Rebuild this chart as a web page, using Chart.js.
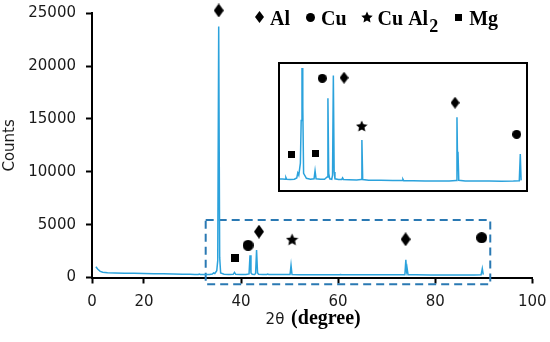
<!DOCTYPE html>
<html>
<head>
<meta charset="utf-8">
<script src="https://cdn.jsdelivr.net/npm/chart.js@4.4.1/dist/chart.umd.min.js"></script>
<style>
body { margin: 0; background: #fff; }
#wrap { position: relative; width: 550px; height: 342px; }
#inset { position: absolute; left: 278px; top: 62px; width: 250px; height: 130px;
         border: 2px solid #000; box-sizing: border-box; background: #fff; }
</style>
</head>
<body>
<div id="wrap">
  <canvas id="xrdChart"></canvas>
  <div id="inset"><canvas id="insetChart"></canvas></div>
</div>
<script>
// XRD pattern (2theta in degrees, counts)
var angle = [10.1, 10.5, 11.0, 11.5, 12.5, 14, 16, 18, 20, 22, 24, 26, 28, 29.5, 30.5, 31.2, 31.4, 31.6,
  32.5, 33.5, 34.1, 34.35, 34.6, 35.0, 35.2, 35.4, 35.6, 35.8, 36.5, 37.5, 38.4, 38.65, 38.9, 40, 41.0,
  41.65, 41.85, 42.05, 42.3, 42.8, 43.0, 43.2, 43.4, 43.6, 44.5, 45.3, 45.5, 45.7, 47, 49, 50.1, 50.3,
  50.5, 52, 55, 58, 60.3, 60.5, 60.7, 63, 66, 69, 72, 73.75, 73.95, 74.1, 74.2, 74.4, 76, 79, 82, 85,
  88, 89.45, 89.7, 89.9];
var counts = [1020, 780, 580, 490, 450, 430, 410, 395, 380, 365, 345, 330, 310, 300, 295, 290, 330, 290,
  285, 290, 320, 430, 380, 650, 1600, 23750, 1900, 420, 310, 290, 300, 480, 300, 290, 290,
  340, 2095, 420, 300, 290, 380, 2600, 450, 300, 285, 285, 320, 285, 280, 275, 285, 1165,
  285, 270, 265, 262, 262, 290, 258, 255, 252, 250, 250, 262, 1670, 650, 900, 265, 250, 248, 248, 246,
  248, 255, 852, 265];

// phase labels (main plot)
var alMain = [[35.4, 25265], [43.7, 4337], [73.9, 3617]];
var cuMain = [[41.45, 3049], [89.57, 3769]];
var cuAl2Main = [[50.52, 3617]];
var mgMain = [[38.85, 1818]];

// phase labels (inset)
var alInset = [[45.85, 2554], [73.46, 1996]];
var cuInset = [[40.45, 2540], [88.8, 1291]];
var cuAl2Inset = [[50.25, 1477]];
var mgInset = [[32.84, 845], [38.88, 868]];

// zoomed region shown in the inset
var zoomX = [32.72, 91.34];
var zoomY = [-644, 5445];

var xTickPos = [9.3, 20, 40, 60, 80, 100];
var xTickLabels = ['0', '20', '40', '60', '80', '100'];
var yTicks = [0, 5000, 10000, 15000, 20000, 25000];

var legendNames = ['Al', 'Cu', 'Cu Al', 'Mg'];
var legendSub = ['', '', '2', ''];

var axisFont = { family: 'DejaVu Sans', size: 15 };

function makeMarker(shape, w, h) {
  var c = document.createElement('canvas');
  c.width = w; c.height = h;
  var g = c.getContext('2d');
  g.fillStyle = '#000';
  g.beginPath();
  if (shape === 'diamond') {
    g.moveTo(w / 2, 0); g.lineTo(w, h / 2); g.lineTo(w / 2, h); g.lineTo(0, h / 2);
  } else if (shape === 'circle') {
    g.arc(w / 2, h / 2, w / 2, 0, Math.PI * 2);
  } else if (shape === 'square') {
    g.rect(0, 0, w, h);
  } else {
    for (var i = 0; i < 10; i++) {
      var r = i % 2 ? w * 0.24 : w / 2;
      var a = -Math.PI / 2 + i * Math.PI / 5;
      g.lineTo(w / 2 + r * Math.cos(a), h * 0.55 + r * Math.sin(a));
    }
  }
  g.closePath();
  g.fill();
  return c;
}

var big = {
  diamond: makeMarker('diamond', 10, 14), circle: makeMarker('circle', 11, 11),
  star: makeMarker('star', 13, 13), square: makeMarker('square', 8, 8)
};
var small = {
  diamond: makeMarker('diamond', 9, 12), circle: makeMarker('circle', 9, 9),
  star: makeMarker('star', 12, 12), square: makeMarker('square', 7, 7)
};
var legendMarks = [small.diamond, small.circle, small.star, small.square];

function pts(list) { return list.map(function (p) { return { x: p[0], y: p[1] }; }); }
function markerSet(list, img) {
  return { data: pts(list), pointStyle: img, pointRadius: 6, pointHoverRadius: 6, showLine: false, clip: false };
}

var xrd = angle.map(function (a, i) { return { x: a, y: counts[i] }; });
var lineBlue = '#2ba2dc';

var peakLegend = {
  id: 'peakLegend',
  afterDraw: function (chart) {
    var ctx = chart.ctx;
    ctx.save();
    ctx.fillStyle = '#000';
    ctx.textBaseline = 'alphabetic';
    var x = 259;
    for (var i = 0; i < legendNames.length; i++) {
      var m = legendMarks[i];
      ctx.drawImage(m, Math.round(x - m.width / 2), Math.round(17 - m.height / 2));
      var tx = x + 11;
      ctx.font = 'bold 20px "Liberation Serif"';
      ctx.fillText(legendNames[i], tx, 25);
      tx += ctx.measureText(legendNames[i]).width;
      if (legendSub[i]) {
        ctx.font = 'bold 18px "Liberation Serif"';
        ctx.fillText(legendSub[i], tx + 1, 32);
        tx += ctx.measureText(legendSub[i]).width + 1;
      }
      x = tx + 20;
    }
    // x axis title: 2θ (degree)
    var a = chart.chartArea;
    ctx.font = '15px "DejaVu Sans"';
    var w1 = ctx.measureText('2θ ').width;
    ctx.font = 'bold 20px "Liberation Serif"';
    var w2 = ctx.measureText('(degree)').width;
    var sx = (a.left + a.right) / 2 - (w1 + w2) / 2;
    ctx.fillStyle = '#1a1a1a';
    ctx.font = '15px "DejaVu Sans"';
    ctx.fillText('2θ ', sx, 324);
    ctx.fillStyle = '#000';
    ctx.font = 'bold 20px "Liberation Serif"';
    ctx.fillText('(degree)', sx + w1 + 2, 324);
    ctx.restore();
  }
};

new Chart(document.getElementById('xrdChart'), {
  type: 'scatter',
  data: {
    datasets: [
      { data: xrd, showLine: true, borderColor: lineBlue, borderWidth: 1.5, pointRadius: 0, pointHoverRadius: 0 },
      markerSet(alMain, big.diamond),
      markerSet(cuMain, big.circle),
      markerSet(cuAl2Main, big.star),
      markerSet(mgMain, big.square),
      {
        data: [{ x: zoomX[0], y: zoomY[1] }, { x: zoomX[1], y: zoomY[1] }, { x: zoomX[1], y: zoomY[0] },
               { x: zoomX[0], y: zoomY[0] }, { x: zoomX[0], y: zoomY[1] }],
        showLine: true, borderColor: '#2a79b3', borderWidth: 2, borderDash: [8, 5],
        pointRadius: 0, pointHoverRadius: 0, clip: false
      }
    ]
  },
  options: {
    responsive: true,
    maintainAspectRatio: false,
    animation: false,
    layout: { autoPadding: false, padding: { top: 13.3, right: 17.7, left: 0, bottom: 0 } },
    plugins: { legend: { display: false }, tooltip: { enabled: false } },
    scales: {
      x: {
        type: 'linear', min: 9.3, max: 100,
        afterBuildTicks: function (s) { s.ticks = xTickPos.map(function (v) { return { value: v }; }); },
        afterFit: function (s) { s.height = 64.5; s.paddingLeft = 0; s.paddingRight = 0; },
        ticks: {
          autoSkip: false, maxRotation: 0, padding: 10, color: '#1a1a1a', font: axisFont,
          callback: function (v, i) { return xTickLabels[i]; }
        },
        grid: { display: true, drawOnChartArea: false, drawTicks: true, tickLength: 6, color: '#000', tickWidth: 2 },
        border: { display: true, color: '#000', width: 2 }
      },
      y: {
        min: 0, max: 25000,
        afterBuildTicks: function (s) { s.ticks = yTicks.map(function (v) { return { value: v }; }); },
        afterFit: function (s) { s.width = 92; s.paddingTop = 0; s.paddingBottom = 0; },
        ticks: { padding: 10, color: '#1a1a1a', font: axisFont,
                 callback: function (v) { return String(v); } },
        title: { display: true, text: 'Counts', color: '#1a1a1a', padding: { top: 1, bottom: 0 },
                 font: axisFont },
        grid: { display: true, drawOnChartArea: false, drawTicks: true, tickLength: 6, color: '#000', tickWidth: 2 },
        border: { display: true, color: '#000', width: 2 }
      }
    }
  },
  plugins: [peakLegend]
});

new Chart(document.getElementById('insetChart'), {
  type: 'scatter',
  data: {
    datasets: [
      { data: xrd, showLine: true, borderColor: lineBlue, borderWidth: 1.5, pointRadius: 0, pointHoverRadius: 0 },
      markerSet(alInset, small.diamond),
      markerSet(cuInset, small.circle),
      markerSet(cuAl2Inset, small.star),
      markerSet(mgInset, small.square)
    ]
  },
  options: {
    responsive: true,
    maintainAspectRatio: false,
    animation: false,
    layout: { autoPadding: false, padding: { top: 4, right: 0, left: 0, bottom: 0 } },
    plugins: { legend: { display: false }, tooltip: { enabled: false } },
    scales: {
      x: { type: 'linear', display: false, min: 29.93, max: 91.12 },
      y: { display: false, min: 50, max: 2770 }
    }
  }
});
</script>
</body>
</html>
